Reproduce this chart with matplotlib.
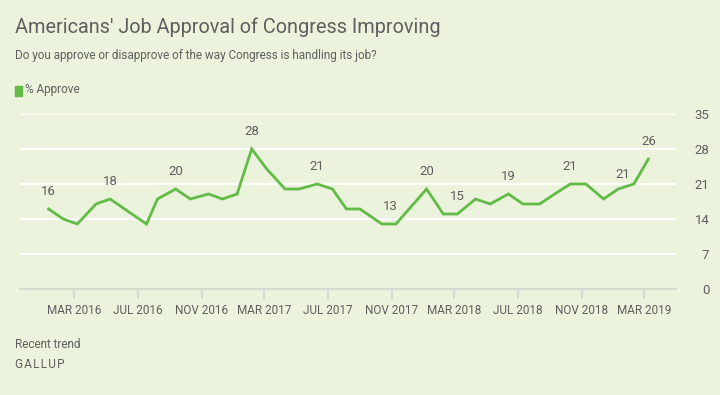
"""Gallup: Americans' job approval of Congress, recent trend."""

import matplotlib
matplotlib.use('Agg')
import matplotlib.pyplot as plt
import pandas as pd

# Poll dates and % approve
dates = [
    '2016-01-12', '2016-02-09', '2016-03-07', '2016-04-12', '2016-05-09',
    '2016-07-18', '2016-08-08', '2016-09-12', '2016-10-10', '2016-11-14',
    '2016-12-11', '2017-01-08', '2017-02-05', '2017-03-06', '2017-04-10',
    '2017-05-07', '2017-06-11', '2017-07-10', '2017-08-06', '2017-09-01',
    '2017-10-13', '2017-11-09', '2018-01-07', '2018-02-08', '2018-03-07',
    '2018-04-11', '2018-05-09', '2018-06-13', '2018-07-11', '2018-08-12',
    '2018-09-10', '2018-10-10', '2018-11-09', '2018-12-13', '2019-01-10',
    '2019-02-09', '2019-03-09',
]
approve = [
    16, 14, 13, 17, 18,
    13, 18, 20, 18, 19,
    18, 19, 28, 24, 20,
    20, 21, 20, 16, 16,
    13, 13, 20, 15, 15,
    18, 17, 19, 17, 17,
    19, 21, 21, 18, 20,
    21, 26,
]
# Points that carry a value label
labelled = ['2016-01-12', '2016-05-09', '2016-09-12', '2017-02-05',
            '2017-06-11', '2017-11-09', '2018-01-07', '2018-03-07',
            '2018-06-13', '2018-10-10', '2019-02-09', '2019-03-09']

tick_dates = ['2016-03-01', '2016-07-01', '2016-11-01', '2017-03-01',
              '2017-07-01', '2017-11-01', '2018-03-01', '2018-07-01',
              '2018-11-01', '2019-03-01']
y_ticks = [0, 7, 14, 21, 28, 35]

# Colours
BG = '#ebf3dc'
GREEN = '#62bb46'
TEXT = '#5f5f5f'
GRID_BASE = '#d6dbd0'

plt.rcParams['font.family'] = ['Roboto', 'DejaVu Sans']

fig = plt.figure(figsize=(7.2, 3.95), dpi=100, facecolor=BG)
ax = fig.add_axes([20 / 720, 1 - 289 / 395, 656 / 720, 175 / 395])
ax.set_facecolor(BG)

x = pd.to_datetime(dates)
ax.plot(x, approve, color=GREEN, lw=2, solid_joinstyle='miter', zorder=3)

# Value labels
for d, v in zip(dates, approve):
    if d not in labelled:
        continue
    dx = 0
    dy = 8
    if d == '2017-11-09':
        dx = -4
    if d == '2019-02-09':
        dx = -8
        dy = 2
    ax.annotate(str(v), (pd.Timestamp(d), v), xytext=(dx, dy),
                textcoords='offset points', ha='center', va='bottom',
                fontsize=9.5, color=TEXT)

# Axes
start = pd.Timestamp('2016-03-01')
ax.set_xlim(start - pd.Timedelta(days=104), start + pd.Timedelta(days=1156))
ax.set_ylim(0, 35)

ax.set_yticks(y_ticks)
ax.yaxis.tick_right()
ax.tick_params(axis='y', length=0, pad=24, labelsize=9.5, labelcolor=TEXT)
for lbl in ax.get_yticklabels():
    lbl.set_horizontalalignment('right')
for t in y_ticks[1:]:
    ax.axhline(t, color='white', lw=1.5, zorder=1)

ax.set_xticks(pd.to_datetime(tick_dates))
ax.set_xticklabels([pd.Timestamp(t).strftime('%b %Y').upper() for t in tick_dates])
ax.tick_params(axis='x', length=7, width=1.5, color=GRID_BASE, pad=4,
               labelsize=8.5, labelcolor=TEXT)

for side in ['top', 'right', 'left']:
    ax.spines[side].set_visible(False)
ax.spines['bottom'].set_color(GRID_BASE)
ax.spines['bottom'].set_linewidth(1.5)

# Header
fig.text(15 / 720, 1 - 27 / 395, "Americans' Job Approval of Congress Improving",
         fontsize=14.3, color=TEXT, va='center', ha='left')
fig.text(15 / 720, 1 - 56 / 395,
         'Do you approve or disapprove of the way Congress is handling its job?',
         fontsize=8.5, color=TEXT, va='center', ha='left')

# Legend
fig.patches.append(plt.Rectangle((15 / 720, 1 - 96 / 395), 7 / 720, 10 / 395,
                                 transform=fig.transFigure, color=GREEN))
fig.text(25 / 720, 1 - 90 / 395, '% Approve', fontsize=8.5, color=TEXT,
         va='center', ha='left')

# Footer
fig.text(15 / 720, 1 - 344 / 395, 'Recent trend', fontsize=8.5, color=TEXT,
         va='center', ha='left')
fig.text(15 / 720, 1 - 365 / 395, 'G\u200aA\u200aL\u200aL\u200aU\u200aP',
         fontsize=8.5, color=TEXT, va='center', ha='left',
         family=['Roboto', 'DejaVu Sans'])

fig.savefig('out.png', dpi=100, facecolor=BG)
